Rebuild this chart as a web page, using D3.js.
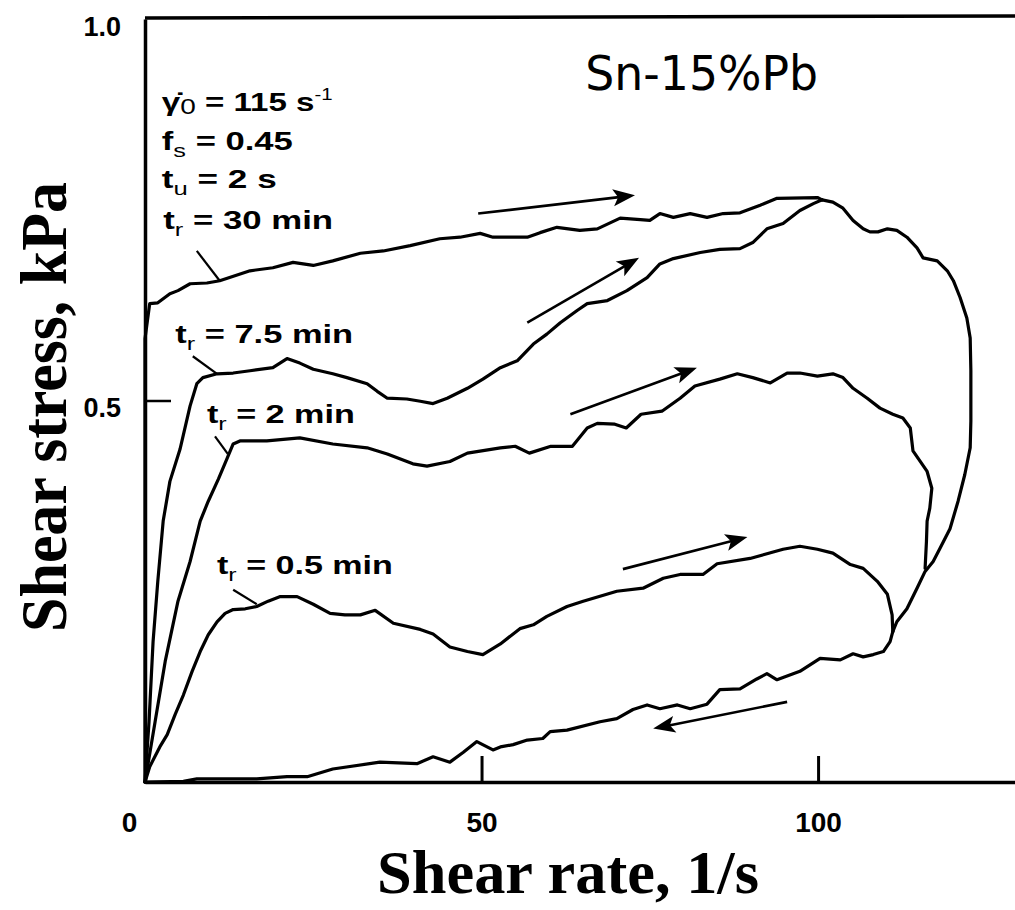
<!DOCTYPE html>
<html><head><meta charset="utf-8">
<script src="https://cdn.jsdelivr.net/npm/d3@7"></script>
<style>body{margin:0;background:#fff} svg{display:block;background:#fff}</style>
</head><body>
<svg id="c" width="1015" height="910"></svg>
<script>
// ---------- data (shear rate 1/s, shear stress kPa) ----------
const xTicks = [0, 50, 100];
const xTickLabels = ["0", "50", "100"];
const yTicks = [0.5, 1.0];
const yTickLabels = ["0.5", "1.0"];

// up-curves (increasing shear rate)
const curve30 = [[0,0],[0,0.581],[0.7,0.627],[1.9,0.628],[3.7,0.640],[4.9,0.644],[6.7,0.653],[9.2,0.654],[11.1,0.657],[15.6,0.670],[19.0,0.674],[22.0,0.681],[25.0,0.677],[27.9,0.683],[32.0,0.693],[35.4,0.696],[39.4,0.703],[43.8,0.712],[46.8,0.714],[49.8,0.719],[51.7,0.714],[53.8,0.714],[56.8,0.714],[58.7,0.720],[61.2,0.727],[64.6,0.723],[67.2,0.725],[70.6,0.739],[73.6,0.737],[75.0,0.736],[76.5,0.745],[78.5,0.740],[81.0,0.745],[83.5,0.740],[85.9,0.745],[88.4,0.746],[91.4,0.756],[93.9,0.765],[99.9,0.766],[100.6,0.763]];
const curve7_5 = [[0,0],[0.6,0.079],[1.2,0.184],[1.9,0.263],[2.7,0.342],[3.7,0.394],[5.2,0.436],[6.7,0.493],[7.7,0.522],[8.6,0.530],[10.7,0.535],[13.1,0.536],[15.6,0.539],[19.0,0.543],[21.1,0.555],[23.0,0.549],[25.0,0.541],[27.9,0.535],[30.0,0.530],[33.0,0.522],[34.5,0.512],[36.0,0.503],[38.9,0.502],[40.9,0.499],[42.8,0.496],[44.9,0.503],[47.9,0.516],[50.2,0.528],[52.8,0.543],[55.3,0.552],[57.7,0.574],[59.7,0.587],[61.7,0.602],[64.2,0.618],[65.7,0.627],[68.7,0.631],[71.6,0.644],[74.6,0.661],[76.5,0.679],[78.5,0.686],[82.5,0.694],[85.4,0.698],[88.4,0.699],[90.3,0.707],[92.4,0.725],[94.8,0.732],[97.3,0.749],[99.3,0.758],[100.6,0.763]];
const curve2 = [[0,0],[1.5,0.079],[3.0,0.158],[4.9,0.237],[6.7,0.289],[8.2,0.342],[9.4,0.368],[10.9,0.397],[12.2,0.424],[13.1,0.443],[14.1,0.447],[18.1,0.447],[23.0,0.451],[27.9,0.443],[33.0,0.438],[36.0,0.430],[39.8,0.417],[41.9,0.414],[45.3,0.420],[47.9,0.431],[52.8,0.438],[55.0,0.440],[57.1,0.431],[60.3,0.440],[63.5,0.440],[65.7,0.464],[67.2,0.470],[69.8,0.469],[71.5,0.464],[73.7,0.482],[76.8,0.486],[79.5,0.503],[81.7,0.519],[85.4,0.528],[88.0,0.535],[90.3,0.530],[92.9,0.523],[95.4,0.536],[97.3,0.536],[99.9,0.532],[102.2,0.535],[103.7,0.530],[105.2,0.516],[107.3,0.503],[109.2,0.490],[111.1,0.482],[112.6,0.477],[113.7,0.464],[114.1,0.434],[116.2,0.407],[116.9,0.385],[116.6,0.359],[116.2,0.342],[116.1,0.315],[115.9,0.280]];
const curve0_5 = [[0,0],[0.7,0.020],[2.2,0.046],[3.3,0.062],[4.5,0.089],[5.7,0.114],[7.0,0.145],[8.2,0.171],[9.4,0.193],[10.7,0.210],[11.9,0.221],[13.1,0.226],[14.9,0.227],[16.6,0.230],[18.3,0.237],[20.1,0.243],[22.6,0.243],[25.0,0.233],[27.5,0.221],[29.7,0.219],[32.0,0.219],[34.2,0.225],[36.9,0.208],[40.9,0.200],[42.8,0.194],[45.3,0.177],[47.9,0.171],[50.2,0.167],[52.8,0.181],[55.7,0.201],[57.7,0.206],[59.7,0.217],[62.7,0.230],[65.1,0.237],[70.1,0.250],[74.0,0.254],[77.0,0.267],[79.5,0.272],[82.9,0.272],[85.0,0.286],[89.9,0.293],[94.8,0.305],[97.3,0.309],[99.9,0.305],[102.2,0.300],[104.8,0.285],[106.7,0.280],[108.8,0.263],[110.3,0.246],[111.0,0.219],[111.1,0.197]];
// down-curves (decreasing shear rate)
const descentOuter = [[100.6,0.763],[102.2,0.760],[103.7,0.752],[105.2,0.736],[106.7,0.725],[107.7,0.721],[108.9,0.721],[110.3,0.725],[111.7,0.723],[113.2,0.714],[114.7,0.700],[115.6,0.687],[117.7,0.683],[119.2,0.670],[120.1,0.657],[121.1,0.635],[122.1,0.608],[122.6,0.582],[122.7,0.539],[122.7,0.473],[122.6,0.438],[121.8,0.403],[120.8,0.368],[119.6,0.332],[118.1,0.306],[117.1,0.289],[115.9,0.276],[114.7,0.254],[113.2,0.227],[111.7,0.210],[111.1,0.197]];
const returnCurve = [[111.1,0.197],[110.7,0.184],[109.7,0.171],[108.2,0.167],[106.7,0.164],[105.2,0.168],[103.3,0.160],[100.3,0.162],[97.3,0.145],[93.9,0.134],[92.4,0.142],[90.9,0.135],[88.4,0.122],[85.4,0.121],[83.5,0.102],[81.0,0.096],[79.1,0.101],[76.5,0.096],[74.6,0.101],[72.5,0.095],[70.1,0.083],[67.6,0.079],[62.7,0.068],[60.2,0.066],[59.1,0.057],[56.8,0.055],[54.7,0.049],[52.8,0.046],[51.7,0.042],[49.3,0.053],[47.3,0.039],[45.3,0.026],[42.8,0.033],[40.4,0.024],[34.9,0.026],[27.9,0.017],[24.1,0.007],[21.1,0.007],[16.6,0.004],[12.2,0.004],[7.7,0.004],[5.7,0.001],[0,0]];

const arrows = [
  [[49.5,0.745],[72.8,0.769]],
  [[56.8,0.602],[73.4,0.687]],
  [[63.2,0.482],[82.0,0.543]],
  [[71.0,0.279],[89.5,0.321]],
  [[95.4,0.105],[75.5,0.070]]
];
const leaders = [
  [[7.7,0.696],[11.1,0.657]],
  [[7.1,0.558],[10.7,0.535]],
  [[10.4,0.453],[12.3,0.430]],
  [[13.1,0.252],[16.6,0.233]]
];
// labels: parts [text, mode]; anchor in data units
const labels = [
  {at:[2.5,0.879], w:171, parts:[["\u03B3\u0307",""],["0","sub0"],[" = 115 s",""],["-1","sup"]]},
  {at:[2.5,0.828], w:131, parts:[["f",""],["s","sub"],[" = 0.45",""]]},
  {at:[2.5,0.779], w:115, parts:[["t",""],["u","sub"],[" = 2 s",""]]},
  {at:[2.7,0.725], w:170, parts:[["t",""],["r","sub"],[" = 30 min",""]]},
  {at:[4.5,0.576], w:178, parts:[["t",""],["r","sub"],[" = 7.5 min",""]]},
  {at:[9.2,0.470], w:148, parts:[["t",""],["r","sub"],[" = 2 min",""]]},
  {at:[10.7,0.272], w:176, parts:[["t",""],["r","sub"],[" = 0.5 min",""]]}
];
const alloyTitle = {text:"Sn-15%Pb", at:[65.4,0.907]};

// ---------- drawing ----------
const svg = d3.select("#c");
const x = d3.scaleLinear().domain([0,130]).range([145,1020]);
const y = d3.scaleLinear().domain([0,1]).range([782,19]);
const line = d3.line().x(d=>x(d[0])).y(d=>y(d[1]));

// frame top
svg.append("line").attr("x1",x(0)).attr("x2",x(130)).attr("y1",y(1)-1).attr("y2",y(1)-3)
  .attr("stroke","#000").attr("stroke-width",3.5);

const sansBold = "'Liberation Sans', Arial, Helvetica, sans-serif";

const gx = svg.append("g").attr("transform",`translate(0,${y(0)})`)
  .call(d3.axisBottom(x).tickValues(xTicks).tickFormat((d,i)=>xTickLabels[i])
    .tickSizeInner(-26).tickSizeOuter(0).tickPadding(30));
gx.attr("font-size",null).attr("font-family",null);
gx.select(".domain").attr("stroke-width",3.5);
gx.selectAll(".tick line").attr("stroke-width",3);
gx.selectAll(".tick text").style("font-family",sansBold).style("font-weight","bold")
  .style("font-size","28px").attr("fill","#000");
gx.selectAll(".tick").filter(d=>d===0).select("text").attr("dx",-16);
gx.selectAll(".tick").filter(d=>d===0).select("line").remove();

const gy = svg.append("g").attr("transform",`translate(${x(0)},0)`)
  .call(d3.axisLeft(y).tickValues(yTicks).tickFormat((d,i)=>yTickLabels[i])
    .tickSizeInner(-26).tickSizeOuter(0).tickPadding(24));
gy.attr("font-size",null).attr("font-family",null);
gy.select(".domain").attr("stroke-width",3.5);
gy.selectAll(".tick line").attr("stroke-width",2.5);
gy.selectAll(".tick").filter(d=>d===1).select("line").remove();
gy.selectAll(".tick text").style("font-family",sansBold).style("font-weight","bold")
  .style("font-size","27px").attr("fill","#000").attr("dy","0.6em");

// curves
const curves = [curve30, curve7_5, curve2, curve0_5, descentOuter, returnCurve];
svg.append("g").selectAll("path").data(curves).join("path")
  .attr("d", line).attr("fill","none").attr("stroke","#000")
  .attr("stroke-width",3.2).attr("stroke-linejoin","round").attr("stroke-linecap","round");

// leader lines
svg.append("g").selectAll("line").data(leaders).join("line")
  .attr("x1",d=>x(d[0][0])).attr("y1",d=>y(d[0][1]))
  .attr("x2",d=>x(d[1][0])).attr("y2",d=>y(d[1][1]))
  .attr("stroke","#000").attr("stroke-width",2.2);

// arrows
const ga = svg.append("g");
arrows.forEach(a=>{
  const x0=x(a[0][0]), y0=y(a[0][1]), x1=x(a[1][0]), y1=y(a[1][1]);
  const L=Math.hypot(x1-x0,y1-y0), ux=(x1-x0)/L, uy=(y1-y0)/L, nx=-uy, ny=ux;
  const H=22, W=8.5;
  const bx=x1-ux*H, by=y1-uy*H;
  ga.append("line").attr("x1",x0).attr("y1",y0).attr("x2",bx+ux*6).attr("y2",by+uy*6)
    .attr("stroke","#000").attr("stroke-width",2.6);
  ga.append("path").attr("d",`M${x1},${y1}L${bx+nx*W},${by+ny*W}L${bx+ux*5},${by+uy*5}L${bx-nx*W},${by-ny*W}Z`)
    .attr("fill","#000");
});

// labels
function fitScale(textSel, targetW){
  const w = textSel.node().getBBox().width;
  return w>0 ? targetW/w : 1;
}
labels.forEach(l=>{
  const px=x(l.at[0]), py=y(l.at[1]);
  const g = svg.append("g");
  const t = g.append("text").attr("font-family",sansBold).attr("font-weight","bold")
    .attr("font-size",26).attr("fill","#000");
  let shift=0;
  l.parts.forEach(p=>{
    const ts = t.append("tspan").text(p[0]);
    let target=0, fs=null;
    if(p[1]==="sub"){target=7; fs=19;}
    else if(p[1]==="sub0"){target=3; fs=22;}
    else if(p[1]==="sup"){target=-11; fs=16;}
    if(fs) ts.attr("font-size",fs).attr("font-weight","normal");
    ts.attr("dy",target-shift); shift=target;
  });
  const sx = fitScale(t,l.w);
  g.attr("transform",`translate(${px},${py}) scale(${sx},1)`);
});

// alloy title
{
  const g = svg.append("g");
  const t = g.append("text").text(alloyTitle.text)
    .attr("font-family","'Comic Sans MS','DejaVu Sans',Verdana,sans-serif")
    .attr("font-size",48).attr("fill","#000");
  const sx = fitScale(t,233);
  g.attr("transform",`translate(${x(alloyTitle.at[0])},${y(alloyTitle.at[1])}) scale(${sx},1)`);
}

// axis titles
const serifBold = "'Liberation Serif','Times New Roman',Times,serif";
{
  const g = svg.append("g");
  const t = g.append("text").text("Shear rate, 1/s").attr("font-family",serifBold)
    .attr("font-weight","bold").attr("font-size",62).attr("text-anchor","middle").attr("fill","#000");
  const sx = fitScale(t,382);
  g.attr("transform",`translate(568,893) scale(${sx},1)`);
}
{
  const g = svg.append("g");
  const t = g.append("text").text("Shear stress, kPa").attr("font-family",serifBold)
    .attr("font-weight","bold").attr("font-size",66).attr("text-anchor","middle").attr("fill","#000");
  const sx = fitScale(t,450);
  g.attr("transform",`translate(66,407) rotate(-90) scale(${sx},1)`);
}
</script>
</body></html>
